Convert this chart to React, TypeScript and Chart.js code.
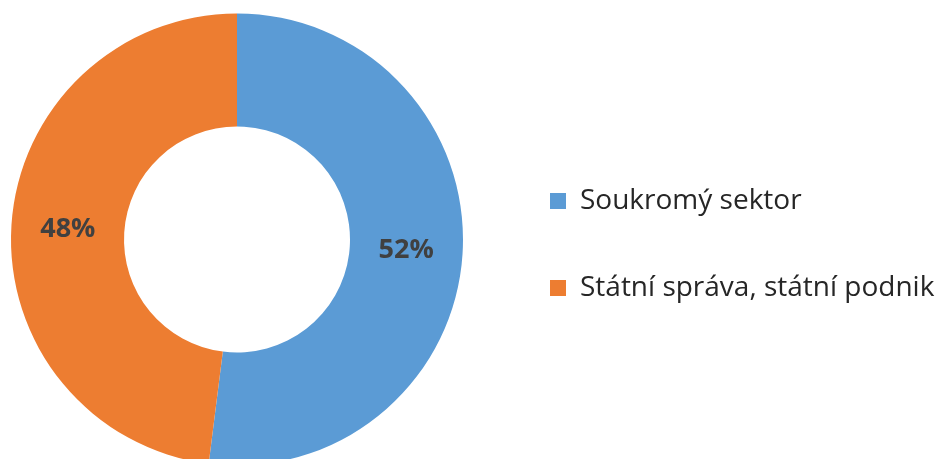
import React, { useEffect, useRef } from "react";
import { Chart, registerables } from "chart.js";

Chart.register(...registerables);

const categories = ["Soukromý sektor", "Státní správa, státní podnik"];
const shares = [52, 48];
const sliceColors = ["#5B9BD5", "#ED7D31"];

const LEGEND_FONT_SIZE = 28;
const LEGEND_FONT_FAMILY = "'Open Sans', sans-serif";
const LEGEND_PAD = 59;
const BOX = 16;
const CANVAS_W = 1000;
const CANVAS_H = 470;
const OFFSET_X = 40;

const labelPlugin = {
  id: "sliceLabels",
  afterDatasetsDraw(chart: any) {
    const ctx = chart.ctx;
    const meta = chart.getDatasetMeta(0);
    ctx.save();
    ctx.font = "bold 27px 'Open Sans', sans-serif";
    ctx.fillStyle = "#404040";
    ctx.textAlign = "center";
    ctx.textBaseline = "middle";
    meta.data.forEach((arc: any, i: number) => {
      const pos = arc.tooltipPosition(false);
      ctx.fillText(`${shares[i]}%`, pos.x, pos.y);
    });
    ctx.restore();
  },
};

export default function App() {
  const ref = useRef<HTMLCanvasElement | null>(null);

  useEffect(() => {
    const canvas = ref.current;
    if (!canvas) return;
    const m = document.createElement("canvas").getContext("2d")!;
    m.font = `${LEGEND_FONT_SIZE}px ${LEGEND_FONT_FAMILY}`;
    const textW = Math.max(...categories.map((c) => m.measureText(c).width));
    const legendW = LEGEND_PAD + BOX + LEGEND_FONT_SIZE / 2 + textW + 10;
    const legendLeft = 550 - LEGEND_PAD + OFFSET_X;
    const padRight = CANVAS_W - legendLeft - legendW;
    const padLeft = 2 * (237 + OFFSET_X) - legendLeft;

    const chart = new Chart(canvas, {
      type: "doughnut",
      data: {
        labels: categories,
        datasets: [
          {
            data: shares,
            backgroundColor: sliceColors,
            borderWidth: 0,
          },
        ],
      },
      options: {
        responsive: false,
        animation: false,
        cutout: "50%",
        layout: {
          padding: { left: padLeft, top: 13.5, bottom: 4.5, right: padRight },
        },
        plugins: {
          tooltip: { enabled: false },
          legend: {
            position: "right",
            title: {
              display: true,
              text: "",
              padding: 0,
              font: { size: 10, lineHeight: 1 },
            },
            labels: {
              boxWidth: BOX,
              boxHeight: BOX,
              padding: LEGEND_PAD,
              color: "#262626",
              font: { size: LEGEND_FONT_SIZE, family: LEGEND_FONT_FAMILY },
            },
          },
        },
      },
      plugins: [labelPlugin],
    });
    return () => chart.destroy();
  }, []);

  return (
    <div
      style={{
        position: "fixed",
        left: 0,
        top: 0,
        width: 936,
        height: 459,
        overflow: "hidden",
        background: "#fff",
      }}
    >
      <canvas
        ref={ref}
        width={CANVAS_W}
        height={CANVAS_H}
        style={{
          position: "absolute",
          left: -OFFSET_X,
          top: 0,
          width: CANVAS_W,
          height: CANVAS_H,
        }}
      />
    </div>
  );
}
